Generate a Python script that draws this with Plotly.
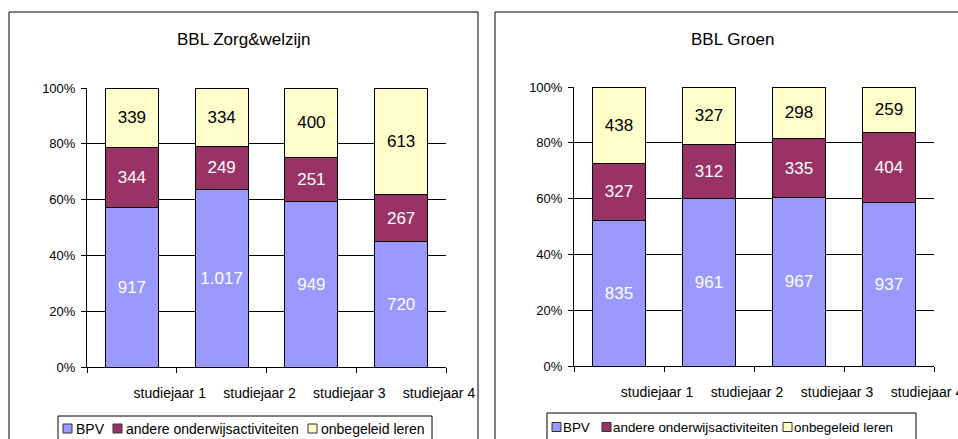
import plotly.graph_objects as go

# categories and series
categories = ["studiejaar 1", "studiejaar 2", "studiejaar 3", "studiejaar 4"]
series_names = ["BPV", "andere onderwijsactiviteiten", "onbegeleid leren"]
series_colors = ["#9999FF", "#993366", "#FFFFCC"]
text_colors = ["white", "white", "black"]

# BBL Zorg&welzijn
zorg_bpv = [917, 1017, 949, 720]
zorg_andere = [344, 249, 251, 267]
zorg_onbegeleid = [339, 334, 400, 613]

# BBL Groen
groen_bpv = [835, 961, 967, 937]
groen_andere = [327, 312, 335, 404]
groen_onbegeleid = [438, 327, 298, 259]

y_ticks = [0, 20, 40, 60, 80, 100]

W, H = 958, 439
FONT = "Arial, Liberation Sans, sans-serif"


def px_x(p):
    return p / W


def px_y(p):
    return (H - p) / H


def nl_number(v):
    # Dutch thousands separator
    return f"{v:,}".replace(",", ".")


fig = go.Figure()
xpos = list(range(len(categories)))

panels = [
    ("x", "y", [zorg_bpv, zorg_andere, zorg_onbegeleid]),
    ("x2", "y2", [groen_bpv, groen_andere, groen_onbegeleid]),
]
for xa, ya, data in panels:
    for name, vals, col, tcol in zip(series_names, data, series_colors, text_colors):
        fig.add_trace(go.Bar(
            x=xpos,
            y=vals,
            name=name,
            xaxis=xa,
            yaxis=ya,
            showlegend=False,
            width=0.59,
            marker=dict(color=col, line=dict(color="black", width=1)),
            text=[nl_number(v) for v in vals],
            textposition="inside",
            insidetextanchor="middle",
            textfont=dict(family=FONT, size=17, color=tcol),
            constraintext="none",
            hoverinfo="name+text",
        ))

tick_positions = [i - 0.5 for i in range(len(categories) + 1)]
tick_text = [""] + categories

xaxis_common = dict(
    range=[-0.5, len(categories) - 0.5],
    tickmode="array",
    tickvals=tick_positions,
    ticktext=tick_text,
    ticks="outside",
    ticklen=5,
    tickcolor="black",
    ticklabelshift=-7,
    ticklabelstandoff=8,
    ticklabeloverflow="allow",
    showgrid=False,
    zeroline=False,
    showline=True,
    linecolor="black",
    linewidth=1,
    tickfont=dict(family=FONT, size=14, color="black"),
    fixedrange=True,
)
yaxis_common = dict(
    range=[0, 100],
    tickmode="array",
    tickvals=y_ticks,
    ticktext=[f"{t}%" for t in y_ticks],
    ticks="outside",
    ticklen=5,
    tickcolor="black",
    ticklabelstandoff=3,
    showgrid=True,
    gridcolor="black",
    gridwidth=1,
    zeroline=False,
    showline=True,
    linecolor="black",
    linewidth=1,
    tickfont=dict(family=FONT, size=13, color="black"),
    fixedrange=True,
)

fig.update_layout(
    width=W,
    height=H,
    margin=dict(l=0, r=0, t=0, b=0, autoexpand=False),
    paper_bgcolor="white",
    plot_bgcolor="white",
    barmode="stack",
    barnorm="percent",
    font=dict(family=FONT, color="black"),
    xaxis=dict(domain=[px_x(87), px_x(446)], anchor="y", **xaxis_common),
    yaxis=dict(domain=[px_y(367), px_y(88)], anchor="x", **yaxis_common),
    xaxis2=dict(domain=[px_x(574), px_x(934)], anchor="y2", **xaxis_common),
    yaxis2=dict(domain=[px_y(366), px_y(87)], anchor="x2", **yaxis_common),
    showlegend=False,
)

# panel frames
fig.add_shape(type="rect", xref="paper", yref="paper",
              x0=px_x(9), x1=px_x(478), y0=-0.1, y1=px_y(12),
              line=dict(color="black", width=1), layer="below")
fig.add_shape(type="rect", xref="paper", yref="paper",
              x0=px_x(495), x1=1.1, y0=-0.1, y1=px_y(12),
              line=dict(color="black", width=1), layer="below")

# panel titles
for title, cx in [("BBL Zorg&welzijn", 244), ("BBL Groen", 732)]:
    fig.add_annotation(text=title, xref="paper", yref="paper",
                       x=px_x(cx), y=px_y(39), xanchor="center", yanchor="middle",
                       showarrow=False, font=dict(family=FONT, size=17, color="black"))

# legends (Excel style: small square + label, boxed, clipped at the bottom)
legend_boxes = [(58, 432, 416), (547, 916, 413)]
legend_swatch_x = [[63, 113, 308], [552, 602, 783]]
legend_mid_y = [428.5, 427]
legend_font_size = [14, 13.4]
legend_text_gap = [12, 10]
for (bx0, bx1, btop), swx, my, fs, gap in zip(legend_boxes, legend_swatch_x, legend_mid_y,
                                              legend_font_size, legend_text_gap):
    fig.add_shape(type="rect", xref="paper", yref="paper",
                  x0=px_x(bx0), x1=px_x(bx1), y0=-0.1, y1=px_y(btop),
                  line=dict(color="black", width=1), fillcolor="white")
    for name, col, sx in zip(series_names, series_colors, swx):
        fig.add_shape(type="rect", xref="paper", yref="paper",
                      x0=px_x(sx), x1=px_x(sx + 9), y0=px_y(my + 4.5), y1=px_y(my - 4.5),
                      line=dict(color="#333333", width=1), fillcolor=col)
        fig.add_annotation(text=name, xref="paper", yref="paper",
                           x=px_x(sx + gap - 1), y=px_y(my), xanchor="left", yanchor="middle",
                           showarrow=False, font=dict(family=FONT, size=fs, color="black"))

fig.write_html("out.html", config={"displayModeBar": False},
               post_script="document.body.style.margin='0';")
